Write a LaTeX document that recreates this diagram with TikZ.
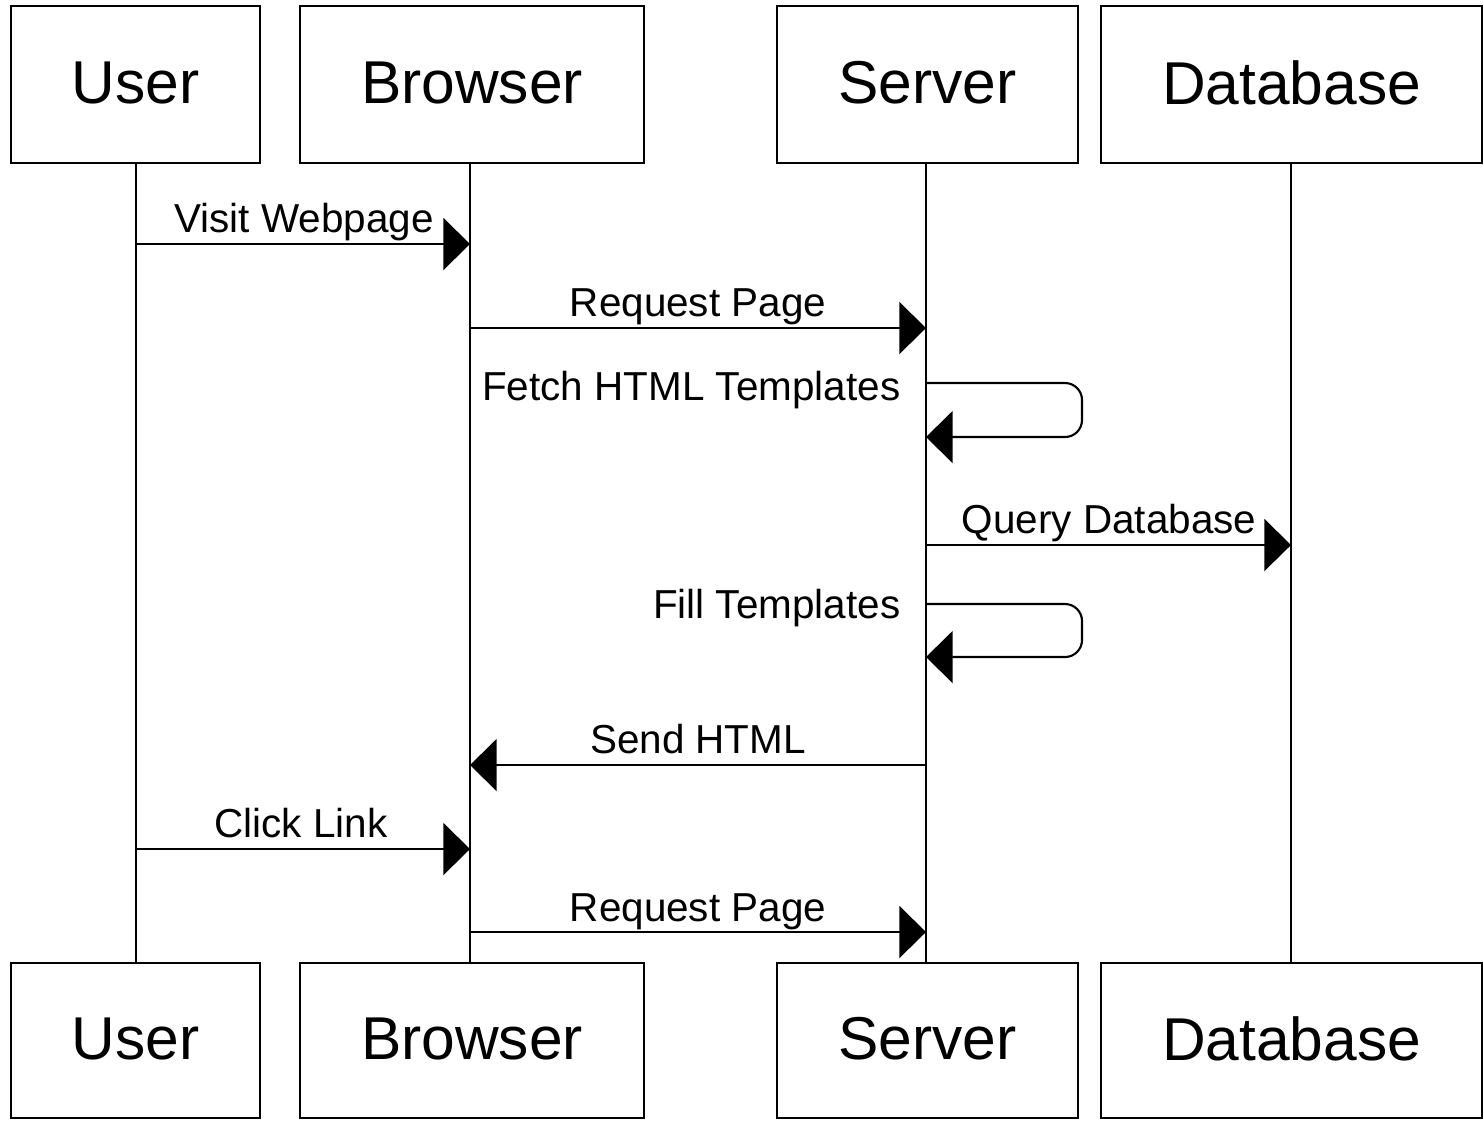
\documentclass[tikz,border=0pt]{standalone}
\usepackage{fontspec}
\setmainfont{Liberation Sans}
\usetikzlibrary{arrows.meta}
\newcommand{\acttext}[1]{\raisebox{1.2pt}{#1}}
\begin{document}
\begin{tikzpicture}[x=0.01cm,y=-0.01cm,
  actor/.style={draw,line width=0.6pt,inner sep=0pt,font=\fontsize{17.2}{20}\selectfont},
  life/.style={line width=0.6pt},
  msg/.style={line width=0.6pt,-{Triangle[length=7.6pt,width=14.8pt]}},
  lbl/.style={font=\fontsize{11.5}{13}\selectfont,inner sep=0pt,anchor=base}]
\useasboundingbox (0,0) rectangle (1483,1120);
% top actors
\node[actor,minimum width=2.49cm,minimum height=1.57cm] (u1) at (135.5,84.5) {\acttext{User}};
\node[actor,minimum width=3.44cm,minimum height=1.57cm] (b1) at (472,84.5) {\acttext{Browser}};
\node[actor,minimum width=3.01cm,minimum height=1.57cm] (s1) at (927.5,84.5) {\acttext{Server}};
\node[actor,minimum width=3.81cm,minimum height=1.57cm] (d1) at (1291.5,84.5) {\acttext{Database}};
% bottom actors
\node[actor,minimum width=2.49cm,minimum height=1.55cm] (u2) at (135.5,1040.5) {\acttext{User}};
\node[actor,minimum width=3.44cm,minimum height=1.55cm] (b2) at (472,1040.5) {\acttext{Browser}};
\node[actor,minimum width=3.01cm,minimum height=1.55cm] (s2) at (927.5,1040.5) {\acttext{Server}};
\node[actor,minimum width=3.81cm,minimum height=1.55cm] (d2) at (1291.5,1040.5) {\acttext{Database}};
% lifelines
\coordinate (uT) at (136,163); \coordinate (uB) at (136,963);
\coordinate (bT) at (470,163); \coordinate (bB) at (470,963);
\coordinate (sT) at (926,163); \coordinate (sB) at (926,963);
\coordinate (dT) at (1291,163); \coordinate (dB) at (1291,963);
\draw[life] (uT) -- (uB);
\draw[life] (bT) -- (bB);
\draw[life] (sT) -- (sB);
\draw[life] (dT) -- (dB);
% message points
\coordinate (u244) at (136,244); \coordinate (b244) at (470,244);
\coordinate (b328) at (470,328); \coordinate (s328) at (926,328);
\coordinate (s383) at (926,383); \coordinate (s437) at (926,437);
\coordinate (s545) at (926,545); \coordinate (d545) at (1291,545);
\coordinate (s604) at (926,604); \coordinate (s657) at (926,657);
\coordinate (s765) at (926,765); \coordinate (b765) at (470,765);
\coordinate (u849) at (136,849); \coordinate (b849) at (470,849);
\coordinate (b932) at (470,932); \coordinate (s932) at (926,932);
% messages
\draw[msg] (u244) -- (b244);
\node[lbl] (l1) at (304,232) {Visit Webpage};
\draw[msg] (b328) -- (s328);
\node[lbl] (l2) at (698,316) {Request Page};
\draw[msg,rounded corners=0.17cm] (s383) -- (1082,383) -- (1082,437) -- (s437);
\node[lbl,anchor=base east] (l3) at (901,400) {Fetch HTML Templates};
\draw[msg] (s545) -- (d545);
\node[lbl] (l4) at (1109,533) {Query Database};
\draw[msg,rounded corners=0.17cm] (s604) -- (1082,604) -- (1082,657) -- (s657);
\node[lbl,anchor=base east] (l5) at (901,618) {Fill Templates};
\draw[msg] (s765) -- (b765);
\node[lbl] (l6) at (698,753) {Send HTML};
\draw[msg] (u849) -- (b849);
\node[lbl] (l7) at (301,837) {Click Link};
\draw[msg] (b932) -- (s932);
\node[lbl] (l8) at (698,921) {Request Page};
\end{tikzpicture}
\end{document}
